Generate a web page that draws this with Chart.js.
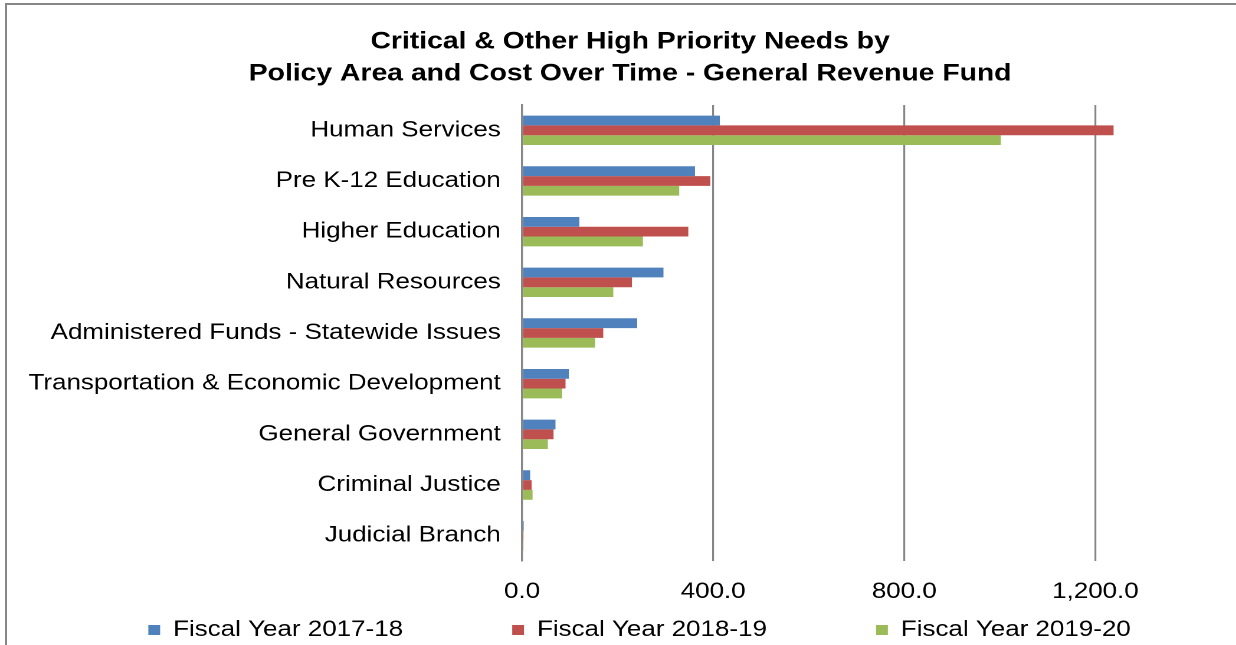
<!DOCTYPE html>
<html>
<head>
<meta charset="utf-8">
<script src="https://cdn.jsdelivr.net/npm/chart.js@4/dist/chart.umd.min.js"></script>
<style>
  html, body { margin: 0; padding: 0; background: #fff; overflow: hidden; }
  #frame {
    position: absolute; left: 5px; top: 3px; width: 1400px; height: 800px;
    border-top: 2px solid #868686; border-left: 2px solid #868686;
  }
  /* the source picture is stretched sideways, so the canvas is too */
  #chart { position: absolute; left: 0; top: 0; transform: scaleX(1.18); transform-origin: 0 0; }
</style>
</head>
<body>
<div id="frame"></div>
<canvas id="chart" width="1068" height="645"></canvas>
<script>
// Policy areas, top to bottom
const policyAreas = [
  'Human Services',
  'Pre K-12 Education',
  'Higher Education',
  'Natural Resources',
  'Administered Funds - Statewide Issues',
  'Transportation & Economic Development',
  'General Government',
  'Criminal Justice',
  'Judicial Branch'
];

const seriesNames = ['Fiscal Year 2017-18', 'Fiscal Year 2018-19', 'Fiscal Year 2019-20'];

// values
const fy2017_18 = [414, 362, 120, 296, 241, 98, 70, 17, 3.5];
const fy2018_19 = [1238, 394, 348, 230, 170, 91, 66, 20, 3];
const fy2019_20 = [1002, 329, 253, 191, 153, 84, 54, 22, 3];

const xTicks = [0, 400, 800, 1200];

const colors = ['#4F81BD', '#C0504D', '#9BBB59'];
const gridColor = '#868686';

// Excel centres the title and legend on the whole chart (not on the
// plot) and spreads the legend out, so move those boxes after layout
const boxNudge = {
  id: 'boxNudge',
  afterLayout(chart) {
    const t = chart.titleBlock;
    t.left = 0;
    t.right = chart.width;
    t.width = chart.width;

    const lg = chart.legend;
    const pad = lg.options.labels.padding;
    lg.maxWidth = chart.width + 100;
    lg.fit(); // redo the rows with the full width so nothing wraps
    lg.top = 630 - pad - 11;
    lg.bottom = chart.height;
    lg.height = lg.bottom - lg.top;
    lg.left = 8;
    lg.right = chart.width + 8;
    lg.width = chart.width;
  }
};

const ctx = document.getElementById('chart').getContext('2d');
new Chart(ctx, {
  type: 'bar',
  data: {
    labels: policyAreas,
    datasets: [fy2017_18, fy2018_19, fy2019_20].map((d, i) => ({
      label: seriesNames[i],
      data: d,
      backgroundColor: colors[i],
      borderWidth: 0,
      barPercentage: 1,
      categoryPercentage: 0.58
    }))
  },
  options: {
    indexAxis: 'y',
    responsive: false,
    devicePixelRatio: 2,
    animation: false,
    layout: { padding: { top: 0, left: 0, right: 58.7, bottom: 0 } },
    plugins: {
      title: {
        display: true,
        text: ['Critical & Other High Priority Needs by', 'Policy Area and Cost Over Time - General Revenue Fund'],
        color: '#000',
        font: { family: 'Liberation Sans, Arial, sans-serif', size: 24, weight: 'bold', lineHeight: 1.333 },
        padding: { top: 26, bottom: 15 }
      },
      legend: {
        position: 'bottom',
        maxHeight: 22,
        labels: {
          color: '#000',
          font: { family: 'Liberation Sans, Arial, sans-serif', size: 22 },
          boxWidth: 10,
          boxHeight: 10,
          padding: 92.5
        }
      },
      tooltip: { enabled: false }
    },
    scales: {
      x: {
        min: 0,
        max: 1400,
        afterBuildTicks: (scale) => {
          scale.ticks = xTicks.map(v => ({ value: v }));
        },
        ticks: {
          color: '#000',
          font: { family: 'Liberation Sans, Arial, sans-serif', size: 22 },
          padding: 17.8,
          maxRotation: 0,
          callback: (v) => Number(v).toLocaleString('en-US', { minimumFractionDigits: 1, maximumFractionDigits: 1 })
        },
        grid: { color: gridColor, lineWidth: 1.6, drawTicks: false },
        border: { display: false }
      },
      y: {
        afterFit: (scale) => { scale.width = 442.4; },
        ticks: {
          color: '#000',
          font: { family: 'Liberation Sans, Arial, sans-serif', size: 22 },
          padding: 18
        },
        grid: { display: false, drawTicks: false },
        border: { display: true, color: gridColor, width: 1.6 }
      }
    }
  },
  plugins: [boxNudge]
});
</script>
</body>
</html>
